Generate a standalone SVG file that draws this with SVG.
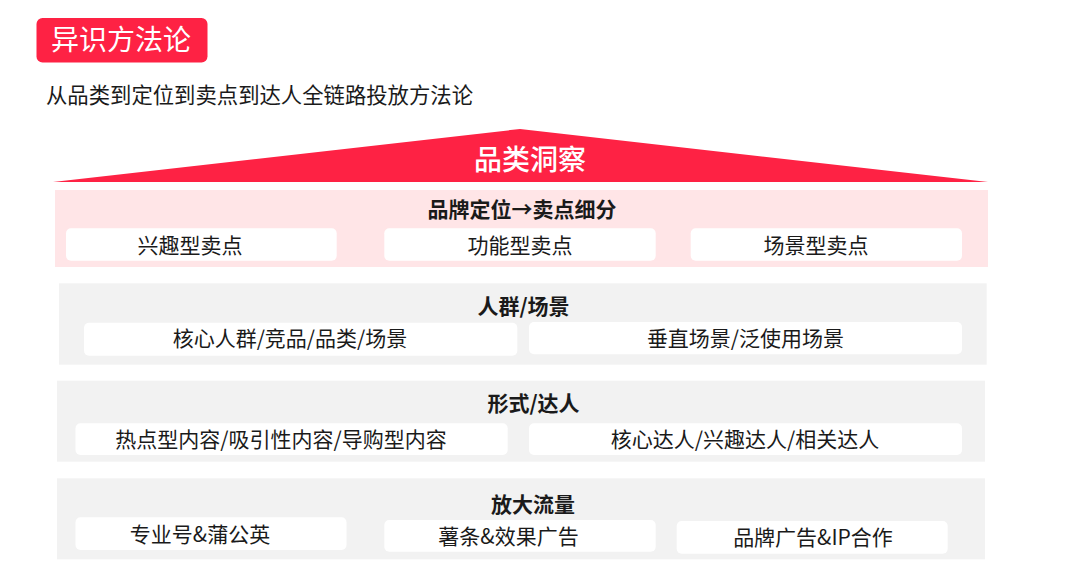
<svg xmlns="http://www.w3.org/2000/svg" width="1080" height="583" viewBox="0 0 1080 583">
<style>
text{font-family:"Noto Sans CJK SC","Liberation Sans",sans-serif;}
.red{fill:#FE2244;}
.band{fill:#F2F2F2;}
.pink{fill:#FFE5E7;}
.box{fill:#FFFFFF;}
.h{font-size:21px;font-weight:bold;fill:#1A1A1A;text-anchor:middle;}
.t{font-size:21px;fill:#1A1A1A;text-anchor:middle;}
.w{font-size:28px;fill:#FFFFFF;}
</style>
<rect width="1080" height="583" fill="#FFFFFF"/>
<g id="title">
<rect class="red" x="36.5" y="18" width="171" height="44.5" rx="6"/>
<text class="w" x="51" y="50">异识方法论</text>
</g>
<g id="subtitle">
<text x="46" y="103" style="font-size:21.3px;fill:#1A1A1A" textLength="427" lengthAdjust="spacingAndGlyphs">从品类到定位到卖点到达人全链路投放方法论</text>
</g>
<g id="roof">
<polygon class="red" points="53,182 520,129 988,182"/>
<text class="w" x="530" y="169.5" text-anchor="middle" font-weight="500">品类洞察</text>
</g>
<g id="layer-positioning">
<rect class="pink" x="55" y="190" width="933" height="77"/>
<text class="h" x="522" y="216.5">品牌定位→卖点细分</text>
<rect class="box" x="66" y="228.3" width="270.7" height="32.4" rx="5"/>
<text class="t" x="190" y="253">兴趣型卖点</text>
<rect class="box" x="384.3" y="228.3" width="271.4" height="32.4" rx="5"/>
<text class="t" x="520" y="253">功能型卖点</text>
<rect class="box" x="690.7" y="228.3" width="271.3" height="32.4" rx="5"/>
<text class="t" x="816" y="253">场景型卖点</text>
</g>
<g id="layer-audience">
<rect class="band" x="59" y="283.3" width="927.7" height="81.4"/>
<text class="h" x="523.5" y="313.8">人群/场景</text>
<rect class="box" x="84" y="322.7" width="433.3" height="33" rx="5"/>
<text class="t" x="290" y="346.3">核心人群/竞品/品类/场景</text>
<rect class="box" x="529" y="322" width="433" height="32.3" rx="5"/>
<text class="t" x="745.5" y="345.8">垂直场景/泛使用场景</text>
</g>
<g id="layer-format">
<rect class="band" x="57" y="380.7" width="928" height="81"/>
<text class="h" x="533.5" y="411.3">形式/达人</text>
<rect class="box" x="75.5" y="423.3" width="432.2" height="31.7" rx="5"/>
<text class="t" x="281" y="446.5">热点型内容/吸引性内容/导购型内容</text>
<rect class="box" x="529" y="423.3" width="433" height="31.7" rx="5"/>
<text class="t" x="745" y="446.5">核心达人/兴趣达人/相关达人</text>
</g>
<g id="layer-traffic">
<rect class="band" x="57" y="478.3" width="928" height="81"/>
<text class="h" x="533" y="512">放大流量</text>
<rect class="box" x="75.5" y="517.3" width="271" height="32.7" rx="5"/>
<text class="t" x="200" y="542">专业号&amp;蒲公英</text>
<rect class="box" x="384.3" y="520" width="271.4" height="31.7" rx="5"/>
<text class="t" x="508.5" y="544">薯条&amp;效果广告</text>
<rect class="box" x="676.7" y="521" width="271" height="32.7" rx="5"/>
<text class="t" x="813" y="544.7">品牌广告&amp;IP合作</text>
</g>
<g id="connectors"></g>
</svg>
